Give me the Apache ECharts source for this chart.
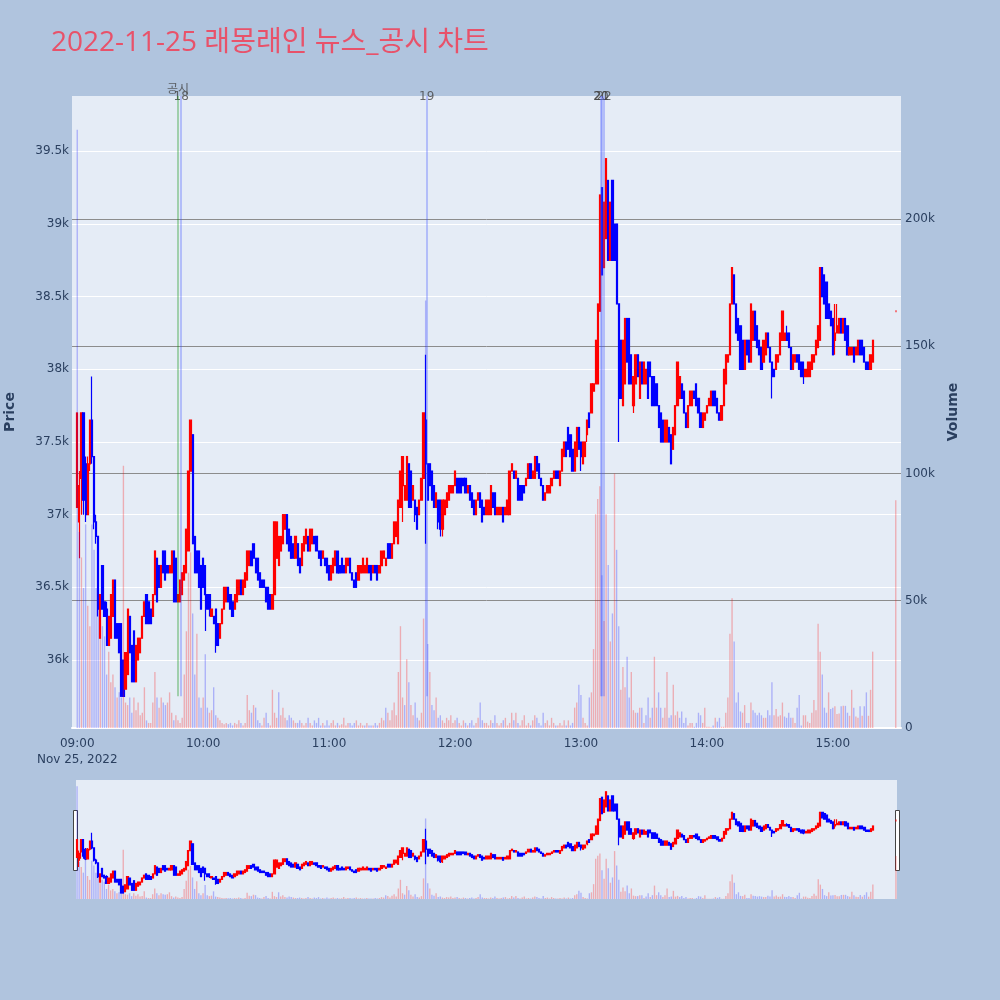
<!DOCTYPE html>
<html>
<head>
<meta charset="utf-8">
<title>래몽래인 뉴스_공시 차트</title>
<script src="https://cdn.jsdelivr.net/npm/echarts@6/dist/echarts.min.js"></script>
<style>
  html, body { margin: 0; padding: 0; background: #b0c4de; }
  #chart { width: 1000px; height: 1000px; }
</style>
</head>
<body>
<div id="chart"></div>
<script>
// 1분봉 [시가, 종가, 저가, 고가], 09:00 부터 한 줄에 한 분
var candles = [
  // 09:00
  [37050,37700,37050,37700],[36950,37200,36700,37300],[37250,37700,37000,37700],[37700,37100,37000,37700],[37350,37000,36950,37400],
  [37000,37350,37000,37400],[37350,37650,37300,37650],[37650,37400,37350,37950],[37400,36950,36900,37400],[36950,36850,36800,37000],
  // 09:10
  [36850,36350,36300,36850],[36150,36450,36150,36450],[36650,36350,36350,36650],[36400,36300,36300,36400],[36350,36100,36100,36400],
  [36100,36300,36100,36300],[36150,36450,36150,36450],[36300,36550,36300,36550],[36550,36150,36150,36550],[36250,36150,36150,36250],
  // 09:20
  [36250,36050,36050,36250],[36250,35750,35750,36250],[36000,35750,35750,36000],[35800,36050,35800,36050],[35900,36350,35900,36350],
  [36300,36050,36050,36300],[36100,35850,35850,36100],[36200,35850,35850,36200],[35850,36100,35850,36100],[36000,36150,36000,36150],
  // 09:30
  [36050,36150,36050,36150],[36150,36300,36150,36300],[36300,36400,36300,36400],[36450,36250,36250,36450],[36400,36250,36250,36400],
  [36350,36250,36250,36350],[36300,36450,36300,36450],[36450,36750,36450,36750],[36700,36400,36400,36700],[36650,36500,36500,36650],
  // 09:40
  [36500,36650,36500,36650],[36750,36600,36600,36750],[36750,36550,36550,36750],[36650,36600,36600,36650],[36600,36650,36600,36650],
  [36600,36750,36600,36750],[36750,36400,36400,36750],[36700,36400,36400,36700],[36400,36450,36400,36450],[36400,36550,36400,36550],
  // 09:50
  [36450,36600,36450,36600],[36550,36650,36550,36650],[36600,36900,36600,36900],[36750,37300,36750,37300],[37300,37650,37300,37650],
  [37550,36800,36800,37550],[36850,36600,36600,36850],[36750,36600,36600,36750],[36750,36500,36500,36750],[36650,36350,36350,36650],
  // 10:00
  [36700,36500,36500,36700],[36650,36450,36200,36650],[36450,36350,36350,36450],[36450,36350,36300,36450],[36300,36350,36300,36350],
  [36300,36250,36250,36300],[36350,36100,36050,36350],[36250,36100,36100,36250],[36150,36250,36150,36250],[36250,36350,36250,36350],
  // 10:10
  [36350,36500,36350,36500],[36400,36500,36400,36500],[36500,36400,36400,36500],[36450,36350,36350,36450],[36400,36300,36300,36400],
  [36350,36450,36350,36450],[36400,36550,36400,36550],[36450,36550,36450,36550],[36550,36450,36450,36550],[36450,36550,36450,36550],
  // 10:20
  [36500,36600,36500,36600],[36550,36750,36550,36750],[36650,36750,36650,36750],[36750,36650,36650,36750],[36800,36700,36700,36800],
  [36700,36600,36600,36700],[36700,36550,36550,36700],[36600,36500,36500,36600],[36550,36500,36500,36550],[36550,36500,36500,36550],
  // 10:30
  [36500,36400,36400,36500],[36500,36350,36350,36500],[36450,36350,36350,36450],[36350,36450,36350,36450],[36450,36950,36450,36950],
  [36700,36950,36700,36950],[36650,36850,36650,36850],[36750,36850,36750,36850],[36800,37000,36800,37000],[36900,37000,36900,37000],
  // 10:40
  [37000,36800,36800,37000],[36900,36750,36750,36900],[36850,36700,36700,36850],[36800,36700,36700,36800],[36700,36850,36700,36850],
  [36800,36650,36650,36800],[36700,36600,36600,36700],[36650,36800,36650,36800],[36750,36850,36750,36850],[36800,36900,36800,36900],
  // 10:50
  [36850,36750,36750,36850],[36750,36900,36750,36900],[36800,36900,36800,36900],[36850,36800,36800,36850],[36850,36750,36750,36850],
  [36750,36700,36700,36750],[36750,36650,36650,36750],[36700,36750,36700,36750],[36700,36650,36650,36700],[36700,36600,36600,36700],
  // 11:00
  [36650,36550,36550,36650],[36550,36650,36550,36650],[36600,36700,36600,36700],[36650,36750,36650,36750],[36750,36600,36600,36750],
  [36650,36600,36600,36650],[36700,36600,36600,36700],[36650,36600,36600,36650],[36600,36700,36600,36700],[36650,36700,36650,36700],
  // 11:10
  [36700,36600,36600,36700],[36600,36550,36550,36600],[36550,36500,36500,36550],[36600,36500,36500,36600],[36550,36650,36550,36650],
  [36600,36650,36600,36650],[36600,36700,36600,36700],[36600,36650,36600,36650],[36600,36700,36600,36700],[36650,36600,36600,36650],
  // 11:20
  [36650,36550,36550,36650],[36600,36650,36600,36650],[36650,36600,36600,36650],[36650,36550,36550,36650],[36600,36650,36600,36650],
  [36650,36750,36650,36750],[36700,36750,36700,36750],[36650,36700,36650,36700],[36800,36700,36700,36800],[36800,36700,36700,36800],
  // 11:30
  [36700,36800,36700,36800],[36800,36950,36800,36950],[36850,36950,36850,36950],[36800,37100,36800,37100],[37050,37300,37050,37300],
  [37200,37400,36950,37400],[37100,37200,37100,37200],[37100,37400,37100,37400],[37350,37050,37050,37350],[37300,37050,37050,37300],
  // 11:40
  [37100,37200,37100,37200],[37100,37000,36950,37100],[37050,36900,36900,37050],[37000,37100,37000,37100],[37100,37250,37100,37250],
  [37250,37700,37250,37700],[37650,37350,36800,38100],[37350,37100,37100,37350],[37350,37200,37200,37350],[37300,37100,37100,37300],
  // 11:50
  [37200,37050,37050,37200],[37050,37150,37050,37150],[37100,36950,36900,37100],[37100,36900,36850,37100],[36900,37100,36850,37100],
  [37000,37100,37000,37100],[37050,37150,37050,37150],[37100,37200,37100,37200],[37150,37200,37150,37200],[37150,37200,37150,37200],
  // 12:00
  [37200,37300,37200,37300],[37250,37150,37150,37250],[37250,37150,37150,37250],[37250,37150,37150,37250],[37250,37200,37200,37250],
  [37250,37150,37150,37250],[37150,37200,37150,37200],[37200,37100,37100,37200],[37150,37050,37050,37150],[37100,37000,37000,37100],
  // 12:10
  [37000,37100,37000,37100],[37100,37150,37100,37150],[37150,37050,37050,37150],[37100,36950,36950,37100],[37050,37000,37000,37050],
  [37000,37100,37000,37100],[37000,37100,37000,37100],[37000,37200,37000,37200],[37150,37050,37050,37150],[37150,37000,37000,37150],
  // 12:20
  [37000,37050,37000,37050],[37000,37050,37000,37050],[37000,37050,37000,37050],[37050,36950,36950,37050],[37000,37050,37000,37050],
  [37000,37100,37000,37100],[37000,37300,37000,37300],[37300,37350,37300,37350],[37300,37250,37250,37300],[37250,37300,37250,37300],
  // 12:30
  [37250,37100,37100,37250],[37200,37100,37100,37200],[37200,37100,37100,37200],[37200,37150,37150,37200],[37200,37250,37200,37250],
  [37250,37350,37250,37350],[37350,37250,37250,37350],[37250,37300,37250,37300],[37250,37400,37250,37400],[37400,37300,37300,37400],
  // 12:40
  [37350,37250,37250,37350],[37250,37200,37200,37250],[37200,37100,37100,37200],[37100,37150,37100,37150],[37150,37200,37150,37200],
  [37150,37200,37150,37200],[37200,37250,37200,37250],[37250,37300,37250,37300],[37300,37250,37250,37300],[37300,37250,37250,37300],
  // 12:50
  [37200,37300,37200,37300],[37300,37450,37300,37450],[37400,37500,37400,37500],[37500,37400,37400,37500],[37600,37450,37450,37600],
  [37550,37400,37400,37550],[37450,37300,37300,37450],[37300,37500,37300,37500],[37400,37600,37400,37600],[37600,37450,37450,37600],
  // 13:00
  [37500,37400,37300,37500],[37350,37500,37350,37500],[37400,37500,37400,37500],[37550,37650,37500,37650],[37700,37600,37600,37700],
  [37700,37900,37700,37900],[37850,37900,37850,37900],[37900,38200,37900,38200],[37900,38450,37900,38450],[38400,39200,38400,39200],
  // 13:10
  [39250,38650,38650,39250],[38700,39150,38700,39150],[38900,39450,38900,39450],[39300,38750,38750,39300],[38750,39150,38750,39150],
  [39300,38750,38750,39300],[39000,38750,38750,39000],[39000,38450,38450,39000],[38450,37800,37500,38450],[38200,37800,37800,38200],
  // 13:20
  [37750,38200,37750,38200],[37900,38350,37900,38350],[38350,38050,38050,38350],[38350,37900,37900,38350],[38100,37900,37900,38100],
  [37750,37950,37700,37950],[37900,38100,37900,38100],[38100,37950,37950,38100],[37800,38050,37800,38050],[38050,37900,37900,38050],
  // 13:30
  [37900,38050,37900,38050],[37900,38000,37900,38000],[38050,37800,37800,38050],[38050,37950,37950,38050],[37950,37750,37750,37950],
  [37950,37750,37750,37950],[37900,37750,37750,37900],[37750,37600,37600,37750],[37700,37500,37500,37700],[37650,37500,37500,37650],
  // 13:40
  [37500,37650,37500,37650],[37500,37650,37500,37650],[37600,37500,37500,37600],[37550,37350,37350,37550],[37450,37600,37450,37600],
  [37550,37750,37550,37750],[37750,38050,37750,38050],[37800,37950,37800,37950],[37900,37800,37800,37900],[37850,37700,37700,37850],
  // 13:50
  [37700,37600,37600,37700],[37600,37750,37600,37750],[37750,37850,37750,37850],[37750,37850,37750,37850],[37850,37800,37800,37850],
  [37900,37750,37750,37900],[37800,37700,37700,37800],[37700,37600,37600,37700],[37600,37700,37600,37700],[37650,37700,37650,37700],
  // 14:00
  [37700,37750,37700,37750],[37750,37800,37750,37800],[37750,37850,37750,37850],[37850,37750,37750,37850],[37850,37750,37750,37850],
  [37800,37700,37700,37800],[37700,37650,37650,37700],[37650,37750,37650,37750],[37750,38000,37750,38000],[37900,38100,37900,38100],
  // 14:10
  [38050,38100,38050,38100],[38100,38450,38100,38450],[38450,38700,38450,38700],[38650,38450,38450,38650],[38450,38250,38250,38450],
  [38350,38200,38200,38350],[38300,38000,38000,38300],[38200,38000,38000,38200],[38000,38200,38000,38200],[38200,38100,38100,38200],
  // 14:20
  [38200,38050,38050,38200],[38050,38450,38050,38450],[38200,38400,38200,38400],[38400,38200,38200,38400],[38300,38150,38150,38300],
  [38200,38100,38100,38200],[38150,38000,38000,38150],[38050,38200,38050,38200],[38100,38250,38100,38250],[38250,38150,38150,38250],
  // 14:30
  [38150,38050,38050,38150],[38050,37950,37800,38050],[38000,37950,37950,38000],[38000,38100,38000,38100],[38050,38100,38050,38100],
  [38100,38250,38100,38250],[38200,38400,38200,38400],[38200,38250,38200,38250],[38250,38200,38200,38300],[38250,38150,38150,38250],
  // 14:40
  [38150,38000,38000,38150],[38000,38100,38000,38100],[38050,38100,38050,38100],[38100,38050,38050,38100],[38100,38000,38000,38100],
  [38050,37950,37950,38050],[38050,37950,37900,38050],[37950,38000,37950,38000],[37950,38050,37950,38050],[37950,38050,37950,38050],
  // 14:50
  [38000,38100,38000,38100],[38050,38100,38050,38100],[38100,38200,38100,38200],[38150,38300,38150,38300],[38200,38700,38200,38700],
  [38700,38500,38500,38700],[38650,38450,38450,38650],[38600,38350,38350,38600],[38450,38350,38350,38450],[38400,38300,38300,38400],
  // 15:00
  [38350,38100,38100,38350],[38200,38250,38100,38450],[38250,38300,38250,38450],[38250,38350,38250,38350],[38350,38250,38250,38350],
  [38250,38350,38250,38350],[38350,38200,38200,38350],[38300,38100,38100,38300],[38100,38150,38100,38150],[38100,38150,38100,38150],
  // 15:10
  [38150,38050,38050,38150],[38100,38150,38100,38150],[38100,38200,38100,38200],[38200,38100,38100,38200],[38200,38100,38100,38200],
  [38150,38050,38050,38150],[38050,38000,38000,38050],[38050,38000,38000,38050],[38000,38100,38000,38100],[38050,38200,38050,38200]
];

// 분당 거래량 (천 주), candles 와 같은 순서
var volumeK = [
  235,77,67,55,80,48,40,80,70,55,  63,46,40,36,21,30,18,21,16,12,
  14,12,103,10,9,12,6,12,7,10,     5,6,16,3,2,2,10,22,12,8,
  12,10,9,10,14,6,3,5,3,2,         4,21,38,61,69,45,21,37,12,8,
  12,29,8,6,7,16,5,4,3,2,          1.5,2,1.5,2,1,2,1.5,3,2,1,
  2,13,7,6,9,8,3,2,1,4,            6,2,1,15,6,4,14,5,8,4,
  3,5,4,3,2,2,3,2,1,2,             4,2,1,3,2,4,1,2,1,3,
  1,2,3,1,2,1,1.5,4,1,2,           2,1,2,3,1,2,1,1,2,1,
  1,1,2,1,2,4,3,8,6,3,             7,10,5,22,40,12,9,27,18,9,
  5,10,4,3,6,43,168,33,22,9,       7,12,4,5,3,2,4,3,5,2,
  3,4,2,1,3,2,1,2,3,1,             2,4,10,3,2,2,1,3,2,5,
  2,1,2,3,4,1,2,6,3,6,             2,1,3,5,1,2,1,3,5,4,
  2,1,6,2,3,1,4,2,1,1,             2,1,3,1,3,1,2,8,10,17,
  13,4,2,1,12,14,31,84,90,95,      60,42,84,64,34,45,100,70,40,15,
  24,16,28,12,22,7,6,6,8,8,        2,5,12,4,8,28,8,14,8,4,
  8,22,4,5,17,5,6.5,4,6.5,2,       4,1,2,2,0.5,2,6,5,2,8,
  0.5,0.5,0.3,1,4,2.5,4,0.5,0.5,6, 12,37,51,34,10,14,6.5,6,9,2,
  2,10,7,6,5,6,5,4,4,7,            5,18,5,7.5,4.5,5,10,4.5,4,6,
  4,4,2,8,13,1,5,5,2.5,2,          6,11,7,41,30,21,8,6,14,7.5,
  8,8.5,5.5,5.7,8.5,8.7,8.7,6,4.8,15, 8,4.5,4,8.5,4.8,8.5,14,4.8,15,30
];

var firstMinute = '09:00';
var closeAuction = { time: '15:30', ohlc: [38400, 38400, 38400, 38400], volumeK: 89.5 };

var news = [
  { time: '09:48:00', label: '공시', kind: 'disclosure' },
  { time: '09:49:30', label: '18', kind: 'news' },
  { time: '11:46:30', label: '19', kind: 'news' },
  { time: '13:09:30', label: '20', kind: 'news' },
  { time: '13:09:45', label: '21', kind: 'news' },
  { time: '13:11:00', label: '22', kind: 'news' }
];

var hourTicks = ['09:00', '10:00', '11:00', '12:00', '13:00', '14:00', '15:00'];
var priceTicks = [36000, 36500, 37000, 37500, 38000, 38500, 39000, 39500];
var volumeTicks = [0, 50, 100, 150, 200];
var axisStart = '08:58', axisEnd = '15:32';
var sliderStart = '09:00', sliderEnd = '15:30';
var priceMin = 35532, priceMax = 39881;
var volumeMaxK = 248.3;

var UP = '#ff0000', DOWN = '#0000ff';
var UP_VOL = 'rgba(255,0,0,0.27)', DOWN_VOL = 'rgba(0,0,255,0.25)';
var TITLE_FONT = '"Open Sans", "Noto Sans CJK KR", sans-serif';
var TICK_FONT = '"DejaVu Sans", "Noto Sans CJK KR", sans-serif';
var INK = '#2a3f5f';

function toMin(s) {
    var p = s.split(':');
    return (+p[0]) * 60 + (+p[1]) + (p[2] ? (+p[2]) / 60 : 0);
}
function pad(n) { return (n < 10 ? '0' : '') + n; }
function fmt(m) { return pad(Math.floor(m / 60)) + ':' + pad(m % 60); }

// 카테고리 축 (분 단위)
var categories = [];
for (var t = toMin(axisStart); t <= toMin(axisEnd); t++) categories.push(fmt(t));
var base = toMin(axisStart);

var candleData = categories.map(function () { return '-'; });
var volData = categories.map(function () { return '-'; });
var prevClose = null;
function putBar(idx, ohlc, vol, forceColor) {
    // 거래량 색: 직전 종가 대비 (첫 봉은 하락색)
    var up = prevClose !== null && ohlc[1] >= prevClose;
    prevClose = ohlc[1];
    candleData[idx] = forceColor
        ? { value: ohlc, itemStyle: { color: forceColor, color0: forceColor, borderColor: forceColor, borderColor0: forceColor, borderWidth: 2 } }
        : ohlc;
    volData[idx] = { value: vol, itemStyle: { color: up ? UP_VOL : DOWN_VOL } };
}
var firstIdx = toMin(firstMinute) - base;
candles.forEach(function (c, i) { putBar(firstIdx + i, c, volumeK[i]); });
putBar(toMin(closeAuction.time) - base, closeAuction.ohlc, closeAuction.volumeK, UP);

var dayLow = Math.min.apply(null, candles.map(function (c) { return c[2]; }));

// 레인지 슬라이더용
var s0 = toMin(sliderStart) - base, s1 = toMin(sliderEnd) - base + 1;
var sliderCats = categories.slice(s0, s1);
var sliderCandles = candleData.slice(s0, s1);
var sliderVol = volData.slice(s0, s1);

var newsPoints = news.map(function (n) {
    return {
        name: n.label,
        value: [toMin(n.time) - base, priceMax],
        label: { offset: n.kind === 'disclosure' ? [0, -6] : [0, 1] }
    };
});
var newsLines = news.map(function (n) {
    var x = toMin(n.time) - base;
    var style = n.kind === 'disclosure'
        ? { color: 'rgba(0,140,0,0.3)', width: 2, type: 'solid' }
        : { color: 'rgba(60,80,255,0.3)', width: 2, type: 'solid' };
    return [{ coord: [x, dayLow], lineStyle: style }, { coord: [x, priceMax] }];
});

var candleStyle = { color: UP, color0: DOWN, borderColor: UP, borderColor0: DOWN, borderColorDoji: UP, borderWidth: 1.2 };

var chart = echarts.init(document.getElementById('chart'));
var option = {
    backgroundColor: '#b0c4de',
    animation: false,
    textStyle: { fontFamily: TICK_FONT },
    title: {
        text: '2022-11-25 래몽래인 뉴스_공시 차트',
        left: 46,
        top: 24,
        textStyle: { color: '#e8526a', fontSize: 28, fontWeight: 'normal', fontFamily: TITLE_FONT }
    },
    grid: [
        { left: 72, right: 99, top: 96, bottom: 272, show: true, backgroundColor: '#e5ecf6', borderWidth: 0,
          containLabel: false, outerBoundsMode: 'none' },
        { left: 76, right: 103, top: 780, bottom: 101, show: true, backgroundColor: '#e5ecf6', borderWidth: 0,
          containLabel: false, outerBoundsMode: 'none' }
    ],
    xAxis: [
        {
            type: 'category', gridIndex: 0, data: categories, boundaryGap: true,
            axisTick: { show: false },
            axisLine: { show: true, lineStyle: { color: '#ffffff', width: 2 } },
            splitLine: { show: false },
            axisLabel: {
                color: INK, fontSize: 12, margin: 8, lineHeight: 16, fontFamily: TICK_FONT,
                interval: function (i, v) { return hourTicks.indexOf(v) >= 0; },
                formatter: function (v) { return v === hourTicks[0] ? v + '\nNov 25, 2022' : v; }
            }
        },
        { type: 'value', gridIndex: 0, min: -0.5, max: categories.length - 0.5, show: false },
        { type: 'category', gridIndex: 1, data: sliderCats, boundaryGap: true, show: false }
    ],
    yAxis: [
        {
            type: 'value', gridIndex: 0, position: 'left', min: priceMin, max: priceMax,
            name: 'Price', nameLocation: 'middle', nameGap: 55,
            nameTextStyle: { color: INK, fontSize: 14, fontWeight: 'bold', fontFamily: TICK_FONT },
            axisLine: { show: false },
            axisTick: { show: false, customValues: priceTicks },
            axisLabel: {
                customValues: priceTicks, color: INK, fontSize: 12, margin: 3, fontFamily: TICK_FONT,
                formatter: function (v) { return (v / 1000) + 'k'; }
            },
            splitLine: { show: true, lineStyle: { color: '#ffffff', width: 1 } }
        },
        {
            type: 'value', gridIndex: 0, position: 'right', min: 0, max: volumeMaxK,
            name: 'Volume', nameLocation: 'middle', nameGap: 45,
            nameTextStyle: { color: INK, fontSize: 14, fontWeight: 'bold', fontFamily: TICK_FONT },
            axisLine: { show: false },
            axisTick: { show: false, customValues: volumeTicks },
            axisLabel: {
                customValues: volumeTicks, color: INK, fontSize: 12, margin: 4, fontFamily: TICK_FONT,
                formatter: function (v) { return v === 0 ? '0' : v + 'k'; }
            },
            splitLine: { show: true, lineStyle: { color: '#8c8c8c', width: 1 } }
        },
        { type: 'value', gridIndex: 1, min: priceMin, max: priceMax, show: false },
        { type: 'value', gridIndex: 1, min: 0, max: volumeMaxK, show: false }
    ],
    series: [
        {
            name: 'Price', type: 'candlestick', xAxisIndex: 0, yAxisIndex: 0,
            data: candleData, barWidth: '80%', z: 2, itemStyle: candleStyle
        },
        {
            name: 'Volume', type: 'bar', xAxisIndex: 0, yAxisIndex: 1,
            data: volData, barWidth: '65%', z: 3
        },
        {
            name: 'News', type: 'scatter', xAxisIndex: 1, yAxisIndex: 0, z: 4,
            data: newsPoints, symbolSize: 1, clip: false, silent: true,
            itemStyle: { color: 'rgba(0,0,0,0)' },
            label: { show: true, position: 'inside', formatter: '{b}', color: '#444', fontSize: 12, fontFamily: TICK_FONT },
            markLine: { symbol: ['none', 'none'], silent: true, label: { show: false }, data: newsLines }
        },
        {
            name: 'PriceMini', type: 'candlestick', xAxisIndex: 2, yAxisIndex: 2,
            data: sliderCandles, barWidth: '80%', itemStyle: candleStyle
        },
        {
            name: 'VolumeMini', type: 'bar', xAxisIndex: 2, yAxisIndex: 3,
            data: sliderVol, barWidth: '65%'
        }
    ],
    graphic: [
        { type: 'rect', shape: { x: 73.5, y: 810.5, width: 4, height: 60 }, style: { fill: '#ffffff', stroke: '#444444', lineWidth: 1 } },
        { type: 'rect', shape: { x: 895.5, y: 810.5, width: 4, height: 60 }, style: { fill: '#ffffff', stroke: '#444444', lineWidth: 1 } }
    ]
};
chart.setOption(option);
</script>
</body>
</html>
